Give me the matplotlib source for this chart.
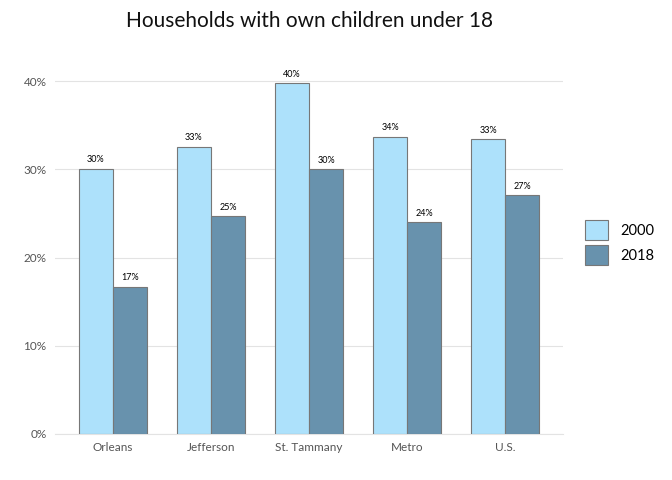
"""
Households with own children under 18 - grouped bar chart, 2000 vs 2018.
"""
import matplotlib.pyplot as plt
import numpy as np

CATEGORIES = ["Orleans", "Jefferson", "St. Tammany", "Metro", "U.S."]
SHARE_2000 = [0.301, 0.326, 0.398, 0.337, 0.334]
SHARE_2018 = [0.167, 0.247, 0.300, 0.240, 0.271]
LABELS_2000 = ["30%", "33%", "40%", "34%", "33%"]
LABELS_2018 = ["17%", "25%", "30%", "24%", "27%"]

LIGHT = "#ade1fb"
DARK = "#6892ad"
EDGE = "#777777"

plt.rcParams["font.family"] = ["Lato", "DejaVu Sans"]

fig = plt.figure(figsize=(6.72, 4.8), dpi=100)
ax = fig.add_axes([55 / 672, 46 / 480, (563 - 55) / 672, 0.79])

x = np.arange(len(CATEGORIES))
width = 0.347
bars_a = ax.bar(x - width / 2, SHARE_2000, width, color=LIGHT, edgecolor=EDGE,
                linewidth=0.8, label="2000", zorder=3)
bars_b = ax.bar(x + width / 2, SHARE_2018, width, color=DARK, edgecolor=EDGE,
                linewidth=0.8, label="2018", zorder=3)

for bar, lab in zip(bars_a, LABELS_2000):
    ax.text(bar.get_x() + bar.get_width() / 2, bar.get_height() + 0.005, lab,
            ha="center", va="bottom", fontsize=6.5, color="black")
for bar, lab in zip(bars_b, LABELS_2018):
    ax.text(bar.get_x() + bar.get_width() / 2, bar.get_height() + 0.005, lab,
            ha="center", va="bottom", fontsize=6.5, color="black")

ax.set_xlim(-0.59, 4.59)
ax.set_ylim(0, 0.43)
ax.set_yticks([0, 0.1, 0.2, 0.3, 0.4])
ax.set_yticklabels(["0%", "10%", "20%", "30%", "40%"])
ax.set_xticks(x)
ax.set_xticklabels(CATEGORIES)
ax.tick_params(axis="both", length=0, labelsize=8.5, colors="#555555", pad=6)
ax.grid(axis="y", color="#e3e3e3", linewidth=0.8, zorder=0)
for side in ["top", "right", "left"]:
    ax.spines[side].set_visible(False)
ax.spines["bottom"].set_color("#e3e3e3")
ax.spines["bottom"].set_linewidth(0.8)

fig.suptitle("Households with own children under 18", x=0.46, y=0.978,
             fontsize=15, color="#111111")

fig.legend(loc="center left", bbox_to_anchor=(572 / 672, 0.495), frameon=False,
           fontsize=10.5, handlelength=1.6, handleheight=1.8, labelspacing=0.3,
           handletextpad=0.8)

fig.savefig("out.png", dpi=100)
